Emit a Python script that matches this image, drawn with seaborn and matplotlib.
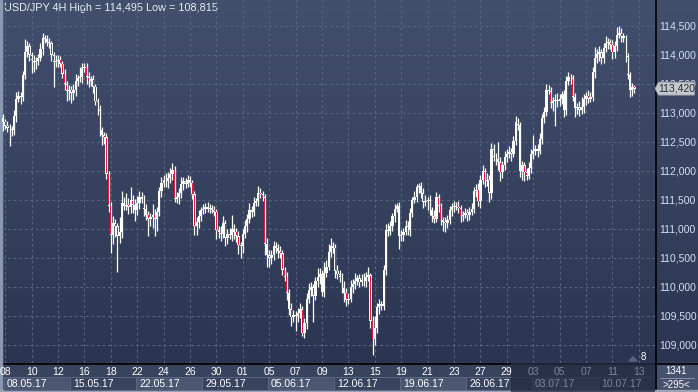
import numpy as np
import pandas as pd
import matplotlib
matplotlib.use("Agg")
import matplotlib.pyplot as plt
import matplotlib.colors as mcolors
from matplotlib.patches import Rectangle, Polygon
import seaborn as sns

# ---------------- data (USD/JPY 4H) ----------------
open_first = 112.92
closes = [
    112.85, 112.78, 112.75, 112.72, 112.70, 112.95, 113.25, 113.30, 113.28, 113.65,
    114.05, 114.15, 114.00, 113.92, 113.88, 113.90, 113.95, 114.10, 114.30, 114.28,
    114.22, 114.20, 114.00, 113.88, 113.90, 113.92, 113.85, 113.68, 113.50, 113.38,
    113.40, 113.35, 113.40, 113.55, 113.60, 113.62, 113.78, 113.80, 113.62, 113.55,
    113.58, 113.45, 113.20, 113.05, 112.70, 112.62, 112.58, 111.95, 111.40, 110.90,
    111.10, 111.05, 110.88, 110.95, 111.45, 111.40,
    111.42, 111.38, 111.50, 111.42, 111.33, 111.45, 111.55, 111.52, 111.35, 111.25,
    111.18, 111.20, 111.25, 111.18, 111.30, 111.65, 111.80, 111.85, 111.82, 111.88,
    111.95, 112.02, 111.52, 111.55, 111.62, 111.78, 111.82, 111.78, 111.85, 111.80,
    111.60, 111.05, 111.12, 111.22, 111.32, 111.35, 111.38, 111.35, 111.37, 111.33,
    111.30, 110.98, 110.95, 110.92, 111.10, 110.85, 110.92, 110.90, 111.00, 110.95,
    110.88, 110.72, 110.70, 110.92, 111.05, 111.18, 111.32,
    111.30, 111.45, 111.48, 111.62, 111.60, 111.55, 110.75, 110.55, 110.50, 110.55,
    110.70, 110.68, 110.62, 110.58, 110.30, 110.18, 109.90, 109.62, 109.48, 109.52,
    109.50, 109.55, 109.62, 109.20, 109.38, 109.80, 109.95, 110.00, 109.85, 110.10,
    110.18, 110.22, 109.92, 110.25, 110.35, 110.60, 110.70, 110.68, 110.28, 110.22,
    110.18, 109.98, 109.90, 109.78, 109.80, 110.00, 110.05, 110.10, 110.15, 110.08,
    110.12, 110.10, 110.18, 110.20, 109.42, 109.10, 109.30,
    109.65, 109.70, 109.68, 110.30, 110.98, 110.96, 111.05, 111.22, 111.35, 111.40,
    110.88, 110.90, 110.95, 111.05, 110.98, 111.28, 111.50, 111.55, 111.72, 111.75,
    111.62, 111.47, 111.48, 111.50, 111.32, 111.22, 111.18, 111.55, 111.40, 111.15,
    111.12, 111.10, 111.15, 111.32, 111.38, 111.40, 111.38, 111.36, 111.22, 111.25,
    111.28, 111.24, 111.30, 111.35, 111.65, 111.68, 111.48, 111.85, 112.00, 111.82,
    111.85, 111.62, 112.38, 112.25, 112.20, 112.15, 111.98, 112.10, 112.25,
    112.30, 112.33, 112.30, 112.52, 112.85, 112.80, 112.00, 112.10, 111.98, 111.92,
    112.05, 112.30, 112.35, 112.38, 112.35, 112.55, 112.92, 113.02, 113.40, 113.38,
    113.18, 113.20, 113.22, 113.20, 113.25, 113.32, 113.05, 113.55, 113.62, 113.60,
    113.28, 113.08, 113.10, 113.06, 113.10, 113.25, 113.30, 113.25, 113.28, 113.70,
    113.95, 114.02, 114.05, 113.95, 114.12, 114.20, 114.22, 114.18, 114.05, 114.15,
    114.35, 114.38, 114.32, 114.30, 113.98, 113.66, 113.40, 113.45, 113.42,
]
# upper / lower wick lengths in pips beyond the body
wick_hi = [
    6, 5, 8, 6, 5, 10, 12, 8, 6, 8, 23, 10, 6, 5, 8, 6, 6, 10, 8, 5,
    6, 8, 5, 6, 10, 8, 6, 5, 8, 6, 8, 6, 10, 12, 6, 18, 8, 7, 6, 8,
    6, 8, 5, 6, 8, 6, 5, 8, 5, 6, 12, 8, 6, 25, 20, 10,
    20, 12, 22, 8, 10, 12, 10, 8, 6, 8, 6, 8, 18, 10, 8, 8, 10, 8, 12, 10,
    10, 11, 6, 8, 8, 12, 8, 6, 8, 6, 5, 6, 8, 10, 6, 8, 6, 8, 6, 5,
    6, 5, 8, 10, 12, 6, 8, 10, 25, 8, 6, 8, 5, 8, 10, 8, 12,
    8, 10, 6, 12, 8, 5, 6, 10, 8, 8, 10, 8, 6, 8, 6, 5, 8, 6, 10, 8,
    6, 8, 10, 6, 8, 10, 12, 8, 6, 8, 15, 10, 8, 18, 12, 15, 14, 8, 6, 10,
    8, 6, 12, 8, 10, 12, 8, 15, 6, 8, 10, 12, 8, 15, 5, 8, 20,
    8, 10, 6, 8, 10, 12, 8, 6, 8, 4, 6, 8, 6, 10, 8, 8, 6, 10, 5, 5,
    6, 8, 10, 6, 8, 6, 10, 8, 6, 5, 6, 8, 10, 8, 6, 8, 6, 10, 5, 6,
    8, 6, 8, 10, 8, 10, 12, 8, 10, 6, 12, 8, 10, 8, 6, 30, 10, 8, 10,
    8, 10, 6, 8, 9, 6, 5, 8, 6, 8, 10, 8, 27, 6, 8, 10, 6, 8, 10, 8,
    6, 8, 10, 12, 8, 6, 8, 9, 8, 6, 5, 6, 8, 10, 18, 8, 6, 10, 8, 10,
    18, 8, 10, 6, 8, 12, 8, 6, 8, 10, 14, 12, 8, 6, 5, 6, 5, 6, 4,
]
wick_lo = [
    16, 6, 8, 29, 10, 8, 10, 6, 12, 8, 6, 8, 10, 23, 18, 12, 8, 6, 10, 8,
    6, 8, 10, 43, 8, 10, 6, 8, 10, 18, 15, 18, 12, 10, 8, 6, 10, 8, 12, 10,
    8, 10, 6, 8, 10, 18, 12, 8, 10, 32, 15, 18, 62, 12, 10, 8,
    8, 12, 10, 15, 20, 8, 10, 8, 12, 10, 30, 12, 18, 30, 22, 8, 10, 8, 10, 12,
    8, 10, 6, 8, 12, 8, 10, 8, 6, 8, 8, 15, 15, 10, 8, 6, 8, 6, 8, 6,
    8, 15, 10, 12, 8, 15, 10, 8, 10, 12, 10, 15, 20, 12, 8, 10, 8,
    10, 8, 6, 8, 6, 6, 20, 20, 15, 10, 8, 10, 12, 8, 10, 8, 12, 10, 15, 8,
    25, 10, 8, 5, 8, 10, 8, 10, 45, 8, 10, 12, 8, 10, 8, 6, 8, 10, 12, 8,
    10, 8, 15, 10, 8, 6, 10, 8, 6, 8, 6, 8, 10, 8, 12, 28, 10,
    10, 12, 8, 8, 10, 8, 6, 8, 10, 6, 22, 8, 10, 6, 8, 10, 8, 6, 8, 10,
    8, 10, 8, 15, 8, 10, 8, 6, 10, 8, 15, 15, 8, 6, 10, 8, 6, 8, 10, 8,
    6, 10, 8, 6, 8, 10, 8, 12, 8, 10, 8, 15, 10, 8, 10, 14, 15, 10, 8,
    10, 8, 12, 6, 8, 10, 10, 16, 16, 8, 6, 8, 10, 8, 10, 6, 8, 10, 8, 6,
    10, 15, 42, 10, 8, 10, 12, 8, 6, 10, 8, 15, 10, 12, 8, 10, 12, 8, 6, 8,
    10, 8, 12, 10, 8, 6, 10, 8, 12, 10, 8, 6, 10, 8, 10, 8, 12, 10, 8,
]
price_levels = [109.0, 109.5, 110.0, 110.5, 111.0, 111.5, 112.0, 112.5, 113.0, 113.5, 114.0, 114.5]
price_labels = ["109,000", "109,500", "110,000", "110,500", "111,000", "111,500",
                "112,000", "112,500", "113,000", "113,500", "114,000", "114,500"]
day_labels = ["08", "10", "12", "16", "18", "22", "24", "26", "30", "01", "05", "07", "09",
              "13", "15", "19", "21", "23", "27", "29", "03", "05", "07", "11", "13"]
week_labels = ["08.05.17", "15.05.17", "22.05.17", "29.05.17", "05.06.17",
               "12.06.17", "19.06.17", "26.06.17", "03.07.17", "10.07.17"]
last_price = 113.42
title = "USD/JPY 4H High = 114,495 Low = 108,815"

# ---------------- build frame ----------------
df = pd.DataFrame({"close": closes})
df["open"] = [open_first] + closes[:-1]
df["top"] = df[["open", "close"]].max(axis=1)
df["bot"] = df[["open", "close"]].min(axis=1)
df["high"] = df["top"] + np.array(wick_hi) / 100.0
df["low"] = df["bot"] - np.array(wick_lo) / 100.0
df["bear"] = df["close"] < df["open"]
df["idx"] = np.arange(len(df))

sns.set_theme(style="dark")
plt.rcParams["font.family"] = ["Liberation Sans", "DejaVu Sans"]

W, H = 698, 392
fig = plt.figure(figsize=(W / 100, H / 100), dpi=100)
fig.patch.set_facecolor("#38435d")

# background axes in pixel coordinates
bg = fig.add_axes([0, 0, 1, 1])
bg.set_xlim(0, W)
bg.set_ylim(H, 0)
bg.axis("off")
top_c = np.array(mcolors.to_rgb("#424f6d"))
bot_c = np.array(mcolors.to_rgb("#2b3551"))
g = np.linspace(0, 1, 256)[:, None, None]
img = top_c[None, None, :] + (bot_c - top_c)[None, None, :] * g
bg.imshow(img, extent=(0, W, 363, 0), aspect="auto", zorder=0, interpolation="bilinear")
bg.add_patch(Rectangle((0, 363), W, H - 363, color="#38435d", zorder=1))
bg.add_patch(Rectangle((655, 363), W - 655, H - 363, color="#46516b", zorder=2))
bg.plot([660, 694], [378, 378], color="#8690a6", lw=0.7, zorder=3)
bg.text(676, 371, "1341", color="white", fontsize=7, ha="center", va="center", zorder=4)
bg.text(676, 385, ">295<", color="white", fontsize=7, ha="center", va="center", zorder=4)
bg.plot([0, W], [363.5, 363.5], color="black", lw=1.2, zorder=5)
bg.plot([655.5, 655.5], [0, H], color="black", lw=1.2, zorder=5)
bg.add_patch(Rectangle((0, 0), 2, H, color="#8b98b2", zorder=6))
bg.add_patch(Rectangle((0, H - 2), W, 2, color="#9aa3b5", zorder=6))
bg.text(4, 8, title, color="#e8eef8", fontsize=7.8, ha="left", va="center", zorder=6)
bg.text(643, 357.5, "8", color="white", fontsize=7, ha="center", va="center", zorder=6)
bg.add_patch(Polygon([[629, 361], [637, 361], [633, 356.5]], closed=True, color="#56627e", zorder=6))

# main price axes
x0 = lambda px: (px - 3) / 2.2
ax = fig.add_axes([2 / W, (H - 363) / H, 653 / W, 363 / H])
ax.set_facecolor("none")
ax.set_xlim(x0(2), x0(655))
ax.set_ylim(114.5 - 337 / 58, 114.5 + 26 / 58)
ax.axis("off")
grid_kw = dict(color="#56637f", lw=0.8, ls=(0, (2.5, 2.5)), zorder=1)
for lv in price_levels:
    ax.axhline(lv, **grid_kw)
tick_idx = [1 + 12 * k for k in range(len(day_labels))]
for t in tick_idx:
    ax.axvline(t, **grid_kw)

ax.vlines(df["idx"], df["low"], df["high"], color="white", lw=0.9, zorder=3)
heights = np.maximum(df["top"] - df["bot"], 0.014)
ax.bar(df["idx"], heights, bottom=df["bot"], width=1.0, color="white", linewidth=0, zorder=4)
bear = df[df["bear"]]
bh = np.maximum(bear["top"] - bear["bot"] - 0.02, 0.004)
ax.bar(bear["idx"], bh, bottom=bear["bot"] + 0.01, width=0.45, color="#e8153d", linewidth=0, zorder=5)

# right price scale
axr = fig.add_axes([655 / W, (H - 363) / H, (W - 655) / W, 363 / H], sharey=ax)
axr.set_facecolor("none")
axr.set_xlim(0, 1)
axr.axis("off")
for lv, lb in zip(price_levels, price_labels):
    axr.text(0.09, lv, lb, color="#d3e0f3", fontsize=7.5, ha="left", va="center")
h = 6.5 / 58
tag = Polygon([[0.0, last_price], [0.08, last_price + h], [0.92, last_price + h],
               [0.92, last_price - h], [0.08, last_price - h]], closed=True,
              facecolor="#c4c8cf", edgecolor="#8d939e", lw=0.6, zorder=6)
axr.add_patch(tag)
axr.text(0.5, last_price, "113,420", color="#2b2b2b", fontsize=7.5, ha="center", va="center", zorder=7)

# time scale strip
axs = fig.add_axes([2 / W, 0, 653 / W, (H - 363) / H], sharex=ax)
axs.set_facecolor("none")
axs.set_ylim(392, 363.5)
axs.axis("off")
dark_from = x0(511)
for w, lb in enumerate(week_labels):
    s = 0.5 + 30 * w
    fill = "#4b5671" if w % 2 == 0 else "#38435d"
    axs.add_patch(Rectangle((s, 377), 30, 13, facecolor=fill, edgecolor="#5f6b86", lw=0.6, zorder=1))
    col = "white" if s < dark_from else "#7b8498"
    axs.text(s + 1.3, 383.7, lb, color=col, fontsize=7.5, ha="left", va="center", zorder=4)
axs.add_patch(Rectangle((dark_from, 363.5), 80, 28.5, facecolor="#232c42", alpha=0.75, lw=0, zorder=2))
for t, lb in zip(tick_idx, day_labels):
    col = "white" if t < dark_from + 1 else "#7b8498"
    axs.text(t, 372, lb, color=col, fontsize=7.5, ha="center", va="center", zorder=4)

fig.savefig("out.png", dpi=100)
